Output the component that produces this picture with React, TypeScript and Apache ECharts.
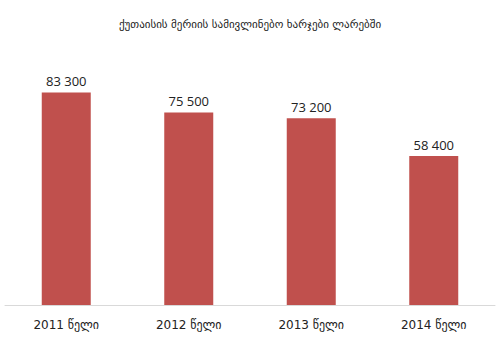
import React, { useEffect, useRef } from "react";
import * as echarts from "echarts";

const categories = ["2011 წელი", "2012 წელი", "2013 წელი", "2014 წელი"];
const values = [83300, 75500, 73200, 58400];
const title = "ქუთაისის მერიის სამივლინებო ხარჯები ლარებში";

export default function App() {
  const ref = useRef<HTMLDivElement>(null);
  useEffect(() => {
    const chart = echarts.init(ref.current!, null, { renderer: "svg" });
    chart.setOption({
      animation: false,
      backgroundColor: "#ffffff",
      title: {
        text: title,
        left: "center",
        top: 14,
        textStyle: { fontFamily: "DejaVu Sans", fontSize: 11, fontWeight: "normal", color: "#222" },
      },
      grid: { left: 5, right: 5, top: 50, bottom: 59 },
      xAxis: {
        type: "category",
        data: categories,
        axisLine: { lineStyle: { color: "#d9d9d9", width: 1 } },
        axisTick: { show: false },
        axisLabel: { fontFamily: "DejaVu Sans", fontSize: 12, color: "#222", margin: 14 },
      },
      yAxis: {
        type: "value",
        min: 0,
        max: 100000,
        show: false,
        splitLine: { show: false },
      },
      series: [
        {
          type: "bar",
          data: values,
          barWidth: "40%",
          itemStyle: { color: "#C0504D" },
          label: {
            show: true,
            position: "top",
            distance: 5,
            fontFamily: "Open Sans",
            fontSize: 13,
            color: "#222",
            formatter: (p: any) => String(p.value).replace(/\B(?=(\d{3})+(?!\d))/g, " "),
          },
        },
      ],
    });
    return () => chart.dispose();
  }, []);
  return <div ref={ref} style={{ width: 500, height: 364, position: "absolute", left: 0, top: 0 }} />;
}
